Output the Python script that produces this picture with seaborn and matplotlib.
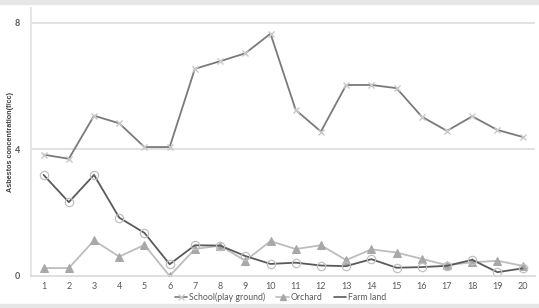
import matplotlib
matplotlib.use("Agg")
import matplotlib.pyplot as plt
import seaborn as sns
import pandas as pd
from matplotlib.lines import Line2D

sites = list(range(1, 21))
school = [3.83, 3.70, 5.06, 4.82, 4.07, 4.07, 6.54, 6.78, 7.03, 7.65,
          5.24, 4.56, 6.03, 6.03, 5.93, 5.03, 4.58, 5.04, 4.61, 4.39]
orchard = [0.25, 0.25, 1.12, 0.61, 0.98, 0.0, 0.85, 0.96, 0.48, 1.10,
           0.85, 0.97, 0.50, 0.84, 0.74, 0.54, 0.34, 0.43, 0.48, 0.32]
farm = [3.19, 2.33, 3.19, 1.84, 1.36, 0.37, 0.97, 0.96, 0.63, 0.38,
        0.42, 0.33, 0.31, 0.53, 0.26, 0.28, 0.32, 0.51, 0.12, 0.24]
series_names = ["School(play ground)", "Orchard", "Farm land"]
yticks = [0, 4, 8]

sns.set_theme(style="white")
plt.rcParams['font.family'] = ['Lato', 'DejaVu Sans']

fig = plt.figure(figsize=(5.39, 3.08), dpi=100)
fig.patch.set_facecolor("white")
ax = fig.add_axes([0.0575, 0.104, 0.9355, 0.87])

df = pd.DataFrame({"site": sites, "school": school, "orchard": orchard, "farm": farm})

sns.lineplot(data=df, x="site", y="school", ax=ax, color="#7a7a7a", lw=1.3,
             marker="x", markersize=4.5, markeredgecolor="#c8c8c8", markeredgewidth=1.0)
sns.lineplot(data=df, x="site", y="orchard", ax=ax, color="#bdbdbd", lw=1.3,
             marker="^", markersize=5.5, markerfacecolor="#a8a8a8", markeredgecolor="#a8a8a8")
sns.lineplot(data=df, x="site", y="farm", ax=ax, color="#5a5a5a", lw=1.3,
             marker="o", markersize=6, markerfacecolor="none", markeredgecolor="#c0c0c0",
             markeredgewidth=0.9)

ax.set_xlim(0.5, 20.5)
ax.set_ylim(0, 8.46)
ax.set_xticks(sites)
ax.set_xticklabels([str(s) for s in sites], fontsize=6.5, color="#595959")
ax.set_yticks(yticks)
ax.set_yticklabels([str(t) for t in yticks], fontsize=6.5, color="#595959", fontweight="bold")
ax.tick_params(axis="x", length=0, pad=4)
ax.tick_params(axis="y", length=0, pad=8)
ax.set_xlabel("")
ax.set_ylabel("Asbestos concentration(f/cc)", fontsize=5.2, fontweight="bold", color="#404040",
              family=["Liberation Sans Narrow", "Liberation Sans", "DejaVu Sans"])
ax.yaxis.set_label_coords(-0.034, 0.5)
for y in [4, 8]:
    ax.axhline(y, color="#dcdcdc", lw=1.2, zorder=0)
for s in ["top", "right"]:
    ax.spines[s].set_visible(False)
ax.spines["left"].set_color("#e0e0e0")
ax.spines["bottom"].set_color("#d9d9d9")
ax.spines["left"].set_linewidth(1.2)
ax.spines["bottom"].set_linewidth(1.2)

handles = [
    Line2D([], [], color="#7a7a7a", lw=1.2, marker="x", markersize=4, markeredgecolor="#c8c8c8"),
    Line2D([], [], color="#bdbdbd", lw=1.2, marker="^", markersize=4, markerfacecolor="#a8a8a8", markeredgecolor="#a8a8a8"),
    Line2D([], [], color="#5a5a5a", lw=1.2),
]
fig.legend(handles, series_names, loc="center", bbox_to_anchor=(0.52, 0.036), ncol=3,
           frameon=False, fontsize=6.3, handlelength=1.4, handletextpad=0.2, columnspacing=1.3,
           labelcolor="#595959")

# outer light-gray frame bands
fig.patches.append(plt.Rectangle((0, 0.988), 1, 0.012, transform=fig.transFigure, color="#e6e6e6", zorder=-1))
fig.patches.append(plt.Rectangle((0, 0), 1, 0.013, transform=fig.transFigure, color="#e6e6e6", zorder=-1))

fig.savefig("out.png", dpi=100)
